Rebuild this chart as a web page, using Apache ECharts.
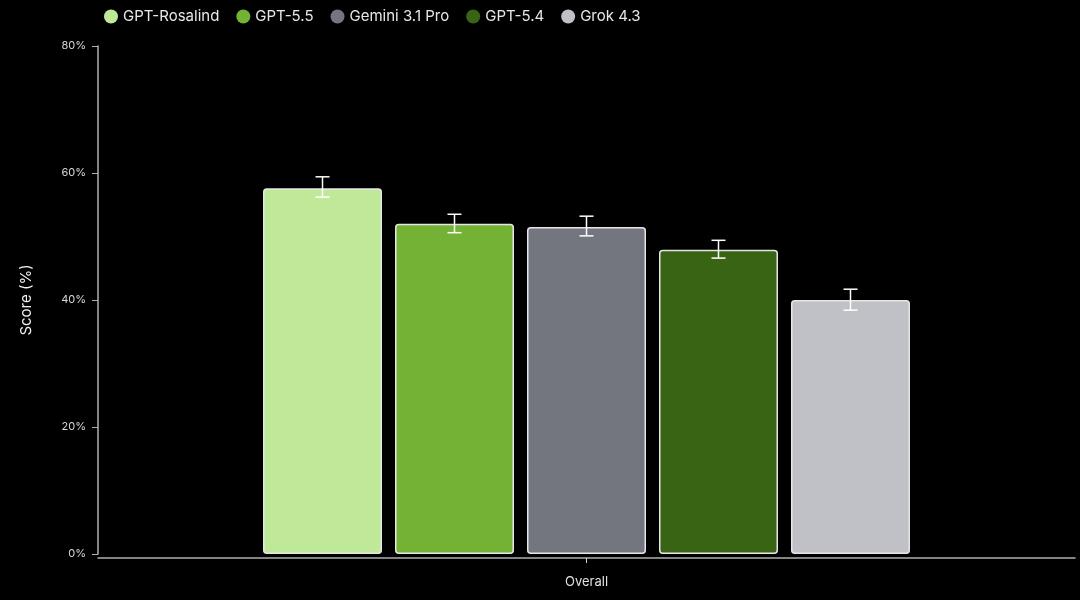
<!DOCTYPE html>
<html>
<head>
<meta charset="utf-8">
<script src="https://cdn.jsdelivr.net/npm/echarts@6/dist/echarts.min.js"></script>
<style>
html,body{margin:0;padding:0;background:#000;}
#chart{width:1080px;height:600px;}
</style>
</head>
<body>
<div id="chart"></div>
<script>
var categories = ['Overall'];
var models = ['GPT-Rosalind', 'GPT-5.5', 'Gemini 3.1 Pro', 'GPT-5.4', 'Grok 4.3'];
var scores = [57.6, 52.0, 51.5, 47.9, 40.0];
var errLow = [56.2, 50.6, 50.1, 46.6, 38.4];
var errHigh = [59.4, 53.5, 53.2, 49.4, 41.7];
var yTicks = [0, 20, 40, 60, 80];
var colors = ['#c0e899', '#74b235', '#74767f', '#396413', '#c0c1c6'];

var BAR_W = 119;
var GAP = 13;

var chart = echarts.init(document.getElementById('chart'), null, {renderer: 'canvas'});
var series = [];
models.forEach(function (m, i) {
  series.push({
    name: m,
    type: 'bar',
    data: [scores[i]],
    barWidth: BAR_W,
    barGap: (GAP / BAR_W * 100).toFixed(2) + '%',
    itemStyle: {color: colors[i], borderColor: '#e6e6e6', borderWidth: 1.5, borderRadius: 3},
    emphasis: {disabled: true}
  });
});
models.forEach(function (m, i) {
  series.push({
    name: m,
    type: 'custom',
    data: [[0, errLow[i], errHigh[i]]],
    z: 10,
    renderItem: function (params, api) {
      var c = api.coord([api.value(0), 0]);
      var x = c[0] + (i - (models.length - 1) / 2) * (BAR_W + GAP);
      var lo = api.coord([0, api.value(1)])[1];
      var hi = api.coord([0, api.value(2)])[1];
      var hw = 7;
      var st = {stroke: '#ffffff', lineWidth: 1.5};
      return {type: 'group', children: [
        {type: 'line', shape: {x1: x, y1: lo, x2: x, y2: hi}, style: st},
        {type: 'line', shape: {x1: x - hw, y1: lo, x2: x + hw, y2: lo}, style: st},
        {type: 'line', shape: {x1: x - hw, y1: hi, x2: x + hw, y2: hi}, style: st}
      ]};
    }
  });
});

chart.setOption({
  backgroundColor: '#000000',
  animation: false,
  color: colors,
  legend: {
    data: models,
    top: 4,
    left: 99,
    icon: 'circle',
    itemWidth: 14,
    itemHeight: 14,
    itemGap: 17,
    itemStyle: {borderWidth: 0},
    textStyle: {color: '#e8e8e8', fontSize: 15, fontFamily: 'Inter, Roboto, sans-serif'}
  },
  grid: {left: 98, right: 5, top: 46, bottom: 46, containLabel: false},
  xAxis: {
    type: 'category',
    data: categories,
    offset: 4,
    axisLine: {onZero: false, lineStyle: {color: '#b0b0b0', width: 1.5}},
    axisTick: {show: true, alignWithLabel: true, length: 5, lineStyle: {color: '#d0d0d0'}},
    axisLabel: {color: '#e0e0e0', fontSize: 13, margin: 18, fontFamily: 'Inter, Roboto, sans-serif'}
  },
  yAxis: {
    type: 'value',
    min: yTicks[0],
    max: yTicks[yTicks.length - 1],
    interval: 20,
    name: 'Score (%)',
    nameLocation: 'middle',
    nameGap: 64,
    nameTextStyle: {color: '#f0f0f0', fontSize: 15, fontFamily: 'Inter, Roboto, sans-serif'},
    axisLine: {show: true, lineStyle: {color: '#b0b0b0', width: 1.5}},
    axisTick: {show: true, length: 6, lineStyle: {color: '#b0b0b0'}},
    splitLine: {show: false},
    axisLabel: {color: '#d8d8d8', fontSize: 11, margin: 12, formatter: '{value}%', fontFamily: 'Inter, Roboto, sans-serif'}
  },
  series: series
});
</script>
</body>
</html>
